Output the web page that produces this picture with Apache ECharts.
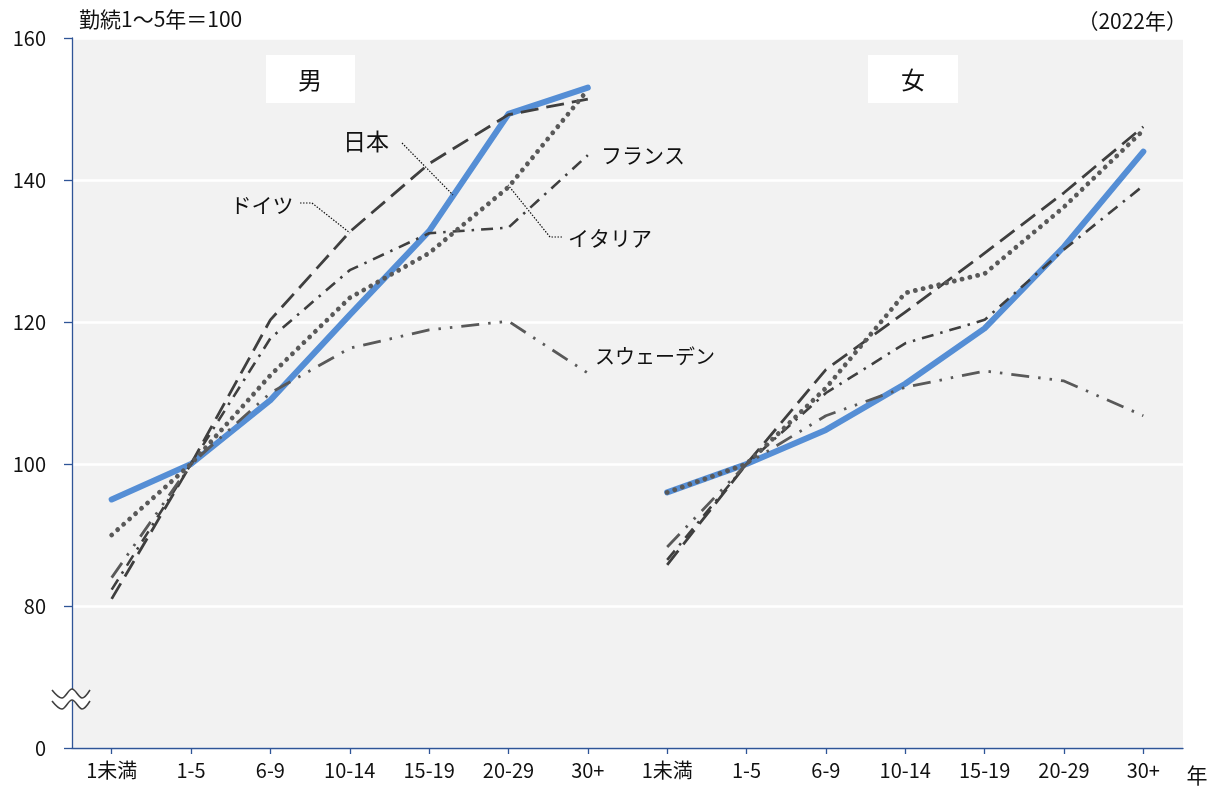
<!DOCTYPE html>
<html><head><meta charset="utf-8">
<script src="https://cdn.jsdelivr.net/npm/echarts@6/dist/echarts.min.js"></script>
<style>html,body{margin:0;padding:0;background:#fff}#c{width:1217px;height:794px}</style>
</head><body><div id="c"></div>
<script>
var ageGroups = ['1未満','1-5','6-9','10-14','15-19','20-29','30+'];
var yTicks = [60, 80, 100, 120, 140, 160];
var yTickLabels = ['0', '80', '100', '120', '140', '160'];

var japanMen    = [95, 100, 109, 121, 132.8, 149.3, 153];
var germanyMen  = [81, 100, 120.3, 132.7, 142.3, 149.2, 151.4];
var italyMen    = [90, 100, 112.5, 123.4, 129.7, 139, 152.7];
var franceMen   = [82.3, 100, 117.7, 127.3, 132.5, 133.3, 143.5];
var swedenMen   = [84, 100, 110, 116.3, 118.9, 120.1, 112.8];

var japanWomen   = [96, 100, 104.8, 111.3, 119.1, 130.6, 144];
var germanyWomen = [85.8, 100, 113.3, 121.4, 129.7, 138.2, 147.5];
var italyWomen   = [96, 100, 110.7, 124.1, 126.8, 136.2, 147];
var franceWomen  = [86.5, 100, 110, 117, 120.3, 130.2, 139.2];
var swedenWomen  = [88.3, 100, 106.8, 110.8, 113.1, 111.7, 106.8];

var categories = ageGroups.concat(ageGroups);
var nulls = ageGroups.map(function(){return null;});

var styles = {
  japan:   {color:'#558ED5', width:6, type:'solid', cap:'round', z:3},
  germany: {color:'#3F3F3F', width:2.8, type:[18,8], cap:'butt', z:4},
  italy:   {color:'#595959', width:4.8, type:[0.01,8], cap:'round', z:5},
  france:  {color:'#3F3F3F', width:2.6, type:[12,7,2.5,7], cap:'butt', z:4},
  sweden:  {color:'#595959', width:2.8, type:[18,9,2.5,9,2.5,9], cap:'butt', z:4}
};

function mk(name, men, women, st) {
  var base = {type:'line', symbol:'none', z:st.z, silent:true,
    lineStyle:{color:st.color, width:st.width, type:st.type, cap:st.cap, join:'round'}};
  return [
    Object.assign({name:name+'男', data:men.concat(nulls)}, JSON.parse(JSON.stringify(base))),
    Object.assign({name:name+'女', data:nulls.concat(women)}, JSON.parse(JSON.stringify(base)))
  ];
}

var series = [].concat(
  mk('日本', japanMen, japanWomen, styles.japan),
  mk('ドイツ', germanyMen, germanyWomen, styles.germany),
  mk('フランス', franceMen, franceWomen, styles.france),
  mk('スウェーデン', swedenMen, swedenWomen, styles.sweden),
  mk('イタリア', italyMen, italyWomen, styles.italy)
);

var FONT = '"Noto Sans CJK JP","Noto Sans",sans-serif';
var axisColor = '#2F5597';

var chart = echarts.init(document.getElementById('c'), null, {renderer:'canvas'});

function txt(x, y, s, size, align) {
  return {type:'text', x:x, y:y, z:50, style:{text:s, fontFamily:FONT, fontSize:size||21, fill:'#111', align:align||'center', verticalAlign:'middle'}};
}
function leader(pts) {
  return {type:'polyline', z:50, shape:{points:pts}, style:{stroke:'#111', lineWidth:1.2, lineDash:[1.5,1.5], fill:null}};
}
var w1 = [[52,690],[62,698],[72,689],[82,698],[90,690]];
var w2 = w1.map(function(p){return [p[0], p[1]+11];});

var graphic = [
  txt(79, 19, '勤続1～5年＝100', 21, 'left'),
  txt(1187, 21, '（2022年）', 21, 'right'),
  txt(1197, 775, '年', 21, 'center'),
  {type:'rect', z:40, shape:{x:266, y:55, width:89, height:48}, style:{fill:'#fff'}},
  txt(310, 80, '男', 24),
  {type:'rect', z:40, shape:{x:868, y:55, width:90, height:48}, style:{fill:'#fff'}},
  txt(913, 80, '女', 24),
  txt(366, 141, '日本', 23),
  leader([[402,143],[453,195]]),
  txt(262, 205, 'ドイツ', 21),
  leader([[300,203],[312,203],[350,233]]),
  txt(610, 238, 'イタリア', 21),
  leader([[562,237],[550,237],[508,185]]),
  txt(643, 155, 'フランス', 21),
  txt(655, 356, 'スウェーデン', 20),
  {type:'polygon', z:60, shape:{points:w1.concat(w2.slice().reverse())}, style:{fill:'#fff'}},
  {type:'polyline', z:61, shape:{points:w1, smooth:0.35}, style:{stroke:'#404040', lineWidth:1.6, fill:null}},
  {type:'polyline', z:61, shape:{points:w2, smooth:0.35}, style:{stroke:'#404040', lineWidth:1.6, fill:null}}
];

chart.setOption({
  animation:false,
  backgroundColor:'#fff',
  grid:{left:72, top:38, right:34, bottom:46, show:true, backgroundColor:'#F2F2F2', borderWidth:0},
  xAxis:{
    type:'category', data:categories, boundaryGap:true,
    axisLine:{show:true, lineStyle:{color:axisColor, width:1.3}},
    axisTick:{show:true, alignWithLabel:true, length:6, lineStyle:{color:axisColor, width:1.3}},
    axisLabel:{margin:12, color:'#111', fontFamily:FONT, fontSize:20, interval:0},
    splitLine:{show:false}
  },
  yAxis:{
    type:'value', min:yTicks[0], max:yTicks[yTicks.length-1], interval:20,
    axisLine:{show:true, lineStyle:{color:axisColor, width:1.3}},
    axisTick:{show:true, inside:false, length:8, lineStyle:{color:axisColor, width:1.3}},
    axisLabel:{margin:26, color:'#111', fontFamily:FONT, fontSize:20,
      formatter:function(v){var i=yTicks.indexOf(v); return i>=0?yTickLabels[i]:'';}},
    splitLine:{show:true, lineStyle:{color:'#fff', width:2.5}}
  },
  series:series,
  graphic:graphic
});
</script></body></html>
